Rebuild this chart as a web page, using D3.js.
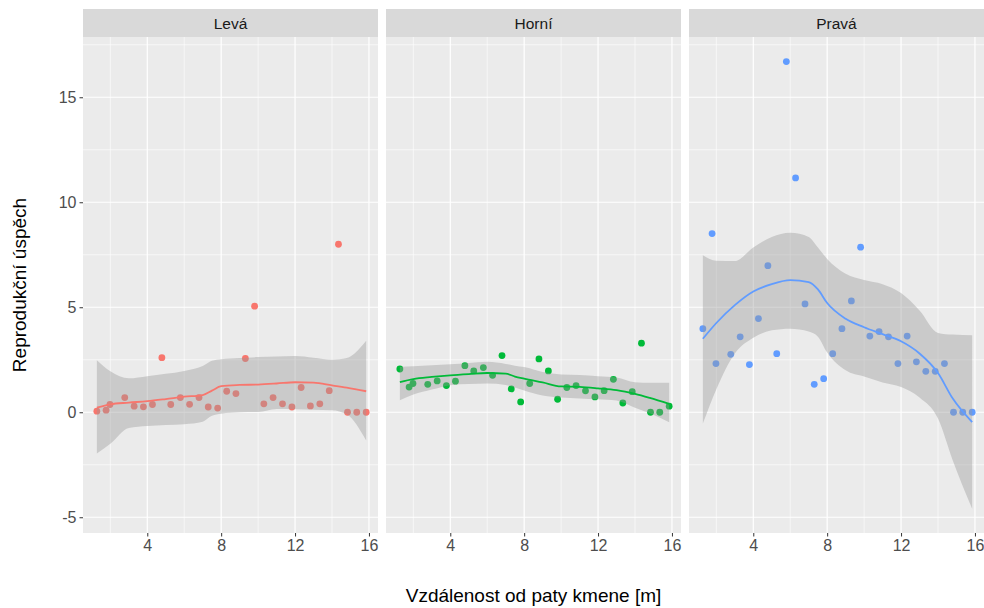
<!DOCTYPE html>
<html>
<head>
<meta charset="utf-8">
<script src="https://cdn.jsdelivr.net/npm/d3@7"></script>
<style>
  body { margin: 0; background: #fff; }
  text { font-family: "Liberation Sans", Arial, sans-serif; }
</style>
</head>
<body>
<div id="chart"></div>
<script>
// data
const panels = ["Levá", "Horní", "Pravá"];
const colors = ["#F8766D", "#00BA38", "#619CFF"];

const distance = [1.27, 1.77, 1.98, 2.78, 3.29, 3.79, 4.28, 4.79, 5.27, 5.79, 6.29, 6.8, 7.3, 7.81, 8.3,
                  8.8, 9.31, 9.81, 10.31, 10.81, 11.32, 11.83, 12.33, 12.83, 13.34, 13.85, 14.35, 14.84, 15.34, 15.85];

const levaY = [0.05, 0.1, 0.37, 0.7, 0.29, 0.26, 0.37, 2.6, 0.37, 0.7, 0.38, 0.7, 0.25, 0.2, 1.0,
               0.89, 2.56, 5.05, 0.4, 0.7, 0.4, 0.25, 1.18, 0.3, 0.4, 1.03, 8.0, 0, 0, 0];
const horniY = [2.06, 1.2, 1.37, 1.33, 1.49, 1.27, 1.48, 2.22, 1.97, 2.13, 1.76, 2.7, 1.11, 0.49, 1.37,
                2.54, 1.97, 0.62, 1.18, 1.27, 1.02, 0.73, 1.03, 1.57, 0.44, 0.98, 3.29, 0, 0, 0.29];
const pravaY = [3.98, 8.51, 2.32, 2.76, 3.59, 2.27, 4.46, 6.98, 2.79, 16.7, 11.16, 5.16, 1.33, 1.6, 2.79,
                3.98, 5.3, 7.86, 3.63, 3.84, 3.59, 2.32, 3.63, 2.4, 1.95, 1.95, 2.32, 0, 0, 0];

// smoothed curve and confidence band, read at these distances
const smoothX = [1.27, 2, 3, 4, 5, 6, 7, 7.5, 8, 9, 10, 11, 12, 13, 14, 14.8, 15.85];
const levaFit = [0.22, 0.38, 0.46, 0.53, 0.63, 0.74, 0.82, 1.03, 1.24, 1.3, 1.32, 1.37, 1.43, 1.41, 1.28, 1.17, 1.0];
const levaLo  = [-1.97, -1.5, -0.75, -0.66, -0.61, -0.57, -0.45, -0.17, -0.07, 0.0, 0.01, 0.15, 0.14, 0.12, 0.1, -0.1, -1.35];
const levaHi  = [2.48, 1.95, 1.62, 1.72, 1.83, 1.97, 2.2, 2.45, 2.52, 2.58, 2.63, 2.66, 2.68, 2.6, 2.5, 2.58, 3.4];
const horniFit = [1.44, 1.58, 1.68, 1.76, 1.82, 1.87, 1.84, 1.7, 1.6, 1.42, 1.23, 1.21, 1.14, 1.05, 0.87, 0.68, 0.4];
const horniLo  = [0.57, 0.84, 1.08, 1.29, 1.34, 1.37, 1.3, 1.18, 1.04, 0.8, 0.7, 0.66, 0.62, 0.56, 0.22, -0.05, -0.48];
const horniHi  = [2.16, 2.19, 2.24, 2.29, 2.35, 2.4, 2.3, 2.22, 2.15, 1.92, 1.8, 1.77, 1.72, 1.66, 1.43, 1.4, 1.4];
const pravaFit = [3.5, 4.25, 5.1, 5.75, 6.1, 6.29, 6.2, 5.85, 5.2, 4.45, 4.05, 3.72, 3.38, 2.8, 1.87, 0.65, -0.47];
const pravaLo  = [-0.54, 1.1, 2.8, 3.55, 3.9, 3.98, 3.85, 3.6, 2.85, 2.0, 1.7, 1.42, 1.2, 0.7, -0.3, -2.3, -4.6];
const pravaHi  = [7.48, 7.22, 7.2, 7.85, 8.35, 8.55, 8.35, 7.85, 7.3, 6.6, 6.3, 6.1, 5.68, 4.85, 3.78, 3.7, 3.67];

const yTicks = [-5, 0, 5, 10, 15];
const yMinor = [-2.5, 2.5, 7.5, 12.5, 17.5];
const xTicks = [4, 8, 12, 16];
const xMinor = [2, 6, 10, 14];

const pointsY = [levaY, horniY, pravaY];
const fits = [levaFit, horniFit, pravaFit];
const los = [levaLo, horniLo, pravaLo];
const his = [levaHi, horniHi, pravaHi];

const fullWidth = 984, fullHeight = 608;
const panelLeft = [83, 386, 689];
const panelW = 295;
const stripTop = 9, panelTop = 37, panelBottom = 533;
const font = "'Liberation Sans', Arial, sans-serif";

const svg = d3.select("#chart").append("svg")
    .attr("width", fullWidth)
    .attr("height", fullHeight);

const x = d3.scaleLinear().domain([0.52, 16.49]).range([0, panelW]);
const y = d3.scaleLinear().domain([-5.75, 17.87]).range([panelBottom, panelTop]);

panels.forEach((name, i) => {
    const g = svg.append("g").attr("transform", `translate(${panelLeft[i]},0)`);

    // strip
    g.append("rect")
        .attr("x", 0).attr("y", stripTop)
        .attr("width", panelW).attr("height", panelTop - stripTop)
        .attr("fill", "#D9D9D9");
    g.append("text")
        .attr("x", panelW / 2).attr("y", (stripTop + panelTop) / 2)
        .attr("dy", "0.36em")
        .attr("text-anchor", "middle")
        .style("font-size", "15.5px")
        .style("fill", "#1A1A1A")
        .text(name);

    // panel background + grid
    g.append("rect")
        .attr("x", 0).attr("y", panelTop)
        .attr("width", panelW).attr("height", panelBottom - panelTop)
        .attr("fill", "#EBEBEB");

    g.selectAll(".yminor").data(yMinor).enter().append("line")
        .attr("x1", 0).attr("x2", panelW)
        .attr("y1", d => y(d)).attr("y2", d => y(d))
        .attr("stroke", "#fff").attr("stroke-width", 0.6);
    g.selectAll(".xminor").data(xMinor).enter().append("line")
        .attr("y1", panelTop).attr("y2", panelBottom)
        .attr("x1", d => x(d)).attr("x2", d => x(d))
        .attr("stroke", "#fff").attr("stroke-width", 0.6);
    g.selectAll(".ymajor").data(yTicks).enter().append("line")
        .attr("x1", 0).attr("x2", panelW)
        .attr("y1", d => y(d)).attr("y2", d => y(d))
        .attr("stroke", "#fff").attr("stroke-width", 1.2);
    g.selectAll(".xmajor").data(xTicks).enter().append("line")
        .attr("y1", panelTop).attr("y2", panelBottom)
        .attr("x1", d => x(d)).attr("x2", d => x(d))
        .attr("stroke", "#fff").attr("stroke-width", 1.2);

    // points first, ribbon drawn over them like ggplot
    g.selectAll(".pt").data(distance.map((d, j) => [d, pointsY[i][j]])).enter().append("circle")
        .attr("cx", d => x(d[0]))
        .attr("cy", d => y(d[1]))
        .attr("r", 3.4)
        .attr("fill", colors[i]);

    const band = smoothX.map((d, j) => ({ x: d, lo: los[i][j], hi: his[i][j], fit: fits[i][j] }));

    g.append("path")
        .datum(band)
        .attr("fill", "#999999")
        .attr("fill-opacity", 0.4)
        .attr("d", d3.area()
            .curve(d3.curveMonotoneX)
            .x(d => x(d.x))
            .y0(d => y(d.lo))
            .y1(d => y(d.hi)));

    g.append("path")
        .datum(band)
        .attr("fill", "none")
        .attr("stroke", colors[i])
        .attr("stroke-width", 1.8)
        .attr("d", d3.line()
            .curve(d3.curveMonotoneX)
            .x(d => x(d.x))
            .y(d => y(d.fit)));

    // x axis
    const xAxis = d3.axisBottom(x).tickValues(xTicks).tickSize(3.5).tickPadding(3).tickSizeOuter(0);
    const gX = g.append("g")
        .attr("transform", `translate(0,${panelBottom})`)
        .call(xAxis);
    gX.select(".domain").remove();
    gX.selectAll("line").attr("stroke", "#333333");
    gX.selectAll("text")
        .style("font-size", "16px")
        .style("fill", "#4D4D4D")
        .style("font-family", font);
});

// y axis on the first panel
const yAxis = d3.axisLeft(y).tickValues(yTicks).tickFormat(d => String(d))
    .tickSize(3.5).tickPadding(3).tickSizeOuter(0);
const gY = svg.append("g")
    .attr("transform", `translate(${panelLeft[0]},0)`)
    .call(yAxis);
gY.select(".domain").remove();
gY.selectAll("line").attr("stroke", "#333333");
gY.selectAll("text")
    .style("font-size", "16px")
    .style("fill", "#4D4D4D")
    .style("font-family", font);

svg.append("text")
    .attr("x", (panelLeft[0] + panelLeft[2] + panelW) / 2)
    .attr("y", 602)
    .attr("text-anchor", "middle")
    .style("font-size", "19px")
    .style("fill", "#000")
    .text("Vzdálenost od paty kmene [m]");

svg.append("text")
    .attr("transform", `translate(26,${(panelTop + panelBottom) / 2}) rotate(-90)`)
    .attr("text-anchor", "middle")
    .style("font-size", "19px")
    .style("fill", "#000")
    .text("Reprodukční úspěch");
</script>
</body>
</html>
